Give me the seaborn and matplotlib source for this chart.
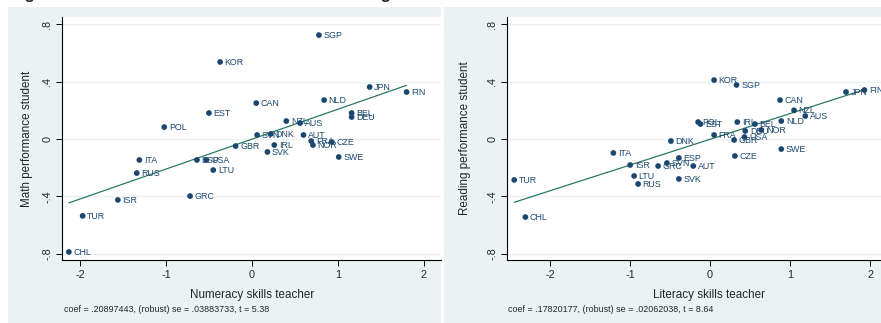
import matplotlib
matplotlib.use("Agg")
import matplotlib.pyplot as plt
from matplotlib.patches import Rectangle
import seaborn as sns
import pandas as pd

# Numeracy of teachers vs. math performance of students
num_countries = ["CHL", "TUR", "ISR", "RUS", "ITA", "GRC", "ESP", "USA", "LTU", "POL",
                 "EST", "KOR", "SGP", "CAN", "NLD", "JPN", "FIN", "BEL", "DEU", "NZL",
                 "AUS", "SVN", "DNK", "AUT", "GBR", "IRL", "SVK", "FRA", "NOR", "CZE", "SWE"]
num_teacher = [-2.13, -1.97, -1.56, -1.34, -1.31, -0.72, -0.64, -0.53, -0.45, -1.02,
               -0.50, -0.37, 0.78, 0.05, 0.84, 1.37, 1.80, 1.16, 1.16, 0.40,
               0.56, 0.06, 0.22, 0.60, -0.19, 0.26, 0.18, 0.69, 0.71, 0.93, 1.01]
math_student = [-0.786, -0.535, -0.424, -0.237, -0.146, -0.397, -0.146, -0.146, -0.216, 0.083,
                0.181, 0.536, 0.723, 0.250, 0.271, 0.362, 0.327, 0.181, 0.153, 0.125,
                0.111, 0.028, 0.035, 0.028, -0.049, -0.042, -0.090, -0.014, -0.042, -0.021, -0.125]

# Literacy of teachers vs. reading performance of students
lit_countries = ["TUR", "CHL", "ITA", "ISR", "LTU", "RUS", "GRC", "SVN", "ESP", "AUT",
                 "SVK", "CZE", "DNK", "FRA", "KOR", "SGP", "POL", "EST", "IRL", "BEL",
                 "DEU", "NOR", "USA", "GBR", "CAN", "NZL", "AUS", "NLD", "SWE", "JPN", "FIN"]
lit_teacher = [-2.45, -2.31, -1.21, -1.00, -0.95, -0.90, -0.65, -0.54, -0.39, -0.21,
               -0.39, 0.31, -0.49, 0.05, 0.05, 0.33, -0.15, -0.12, 0.34, 0.56,
               0.44, 0.64, 0.43, 0.30, 0.875, 1.05, 1.19, 0.89, 0.89, 1.70, 1.93]
read_student = [-0.285, -0.543, -0.097, -0.181, -0.257, -0.313, -0.188, -0.167, -0.132, -0.188,
                -0.278, -0.118, -0.014, 0.028, 0.410, 0.376, 0.118, 0.104, 0.118, 0.104,
                0.056, 0.063, 0.014, -0.007, 0.271, 0.200, 0.160, 0.125, -0.070, 0.327, 0.341]

y_ticks = [-0.8, -0.4, 0.0, 0.4, 0.8]
y_ticklabels = ["-.8", "-.4", "0", ".4", ".8"]
x_ticks = [-2, -1, 0, 1, 2]
x_ticklabels = ["-2", "-1", "0", "1", "2"]

num_note = "coef = .20897443, (robust) se = .03883733, t = 5.38"
lit_note = "coef = .17820177, (robust) se = .02062038, t = 8.64"

sns.set_style("white")
plt.rcParams["font.family"] = ["Liberation Sans", "DejaVu Sans"]

NAVY = "#1a476f"
FIT = "#2b7866"
REGION = "#eaf2f3"
W, H = 881, 323

fig = plt.figure(figsize=(W / 100, H / 100), dpi=100)
fig.patch.set_facecolor("white")

def px_rect(x0, y0, x1, y1):
    # pixel box (top-left origin) -> figure fraction [left, bottom, width, height]
    return [x0 / W, 1 - y1 / H, (x1 - x0) / W, (y1 - y0) / H]

# graph regions behind each panel
for x0, x1 in [(8, 441), (444, 900)]:
    l, b, w, h = px_rect(x0, 7, x1, 330)
    fig.patches.append(Rectangle((l, b), w, h, transform=fig.transFigure,
                                 facecolor=REGION, edgecolor="none", zorder=-5))

fig.text(10 / W, 1 + 1.5 / H, "Figure 4: Student Performance and Teacher Cognitive Skills",
         fontsize=12, fontweight="bold", ha="left", va="baseline")

panels = [
    dict(rect=px_rect(62, 17, 441, 260), xlim=(-2.21, 2.2),
         x=num_teacher, y=math_student, names=num_countries,
         xlabel="Numeracy skills teacher", ylabel="Math performance student",
         note=num_note, note_x=64, ylab_x=27, xlab_x=252),
    dict(rect=px_rect(507, 17, 890, 260), xlim=(-2.54, 2.25),
         x=lit_teacher, y=read_student, names=lit_countries,
         xlabel="Literacy skills teacher", ylabel="Reading performance student",
         note=lit_note, note_x=508, ylab_x=465, xlab_x=709),
]

for p in panels:
    ax = fig.add_axes(p["rect"])
    ax.set_zorder(1)
    ax.set_facecolor("white")
    df = pd.DataFrame({"teacher": p["x"], "student": p["y"], "country": p["names"]})

    for yt in y_ticks:
        ax.axhline(yt, color=REGION, lw=1.0, zorder=0)

    sns.regplot(data=df, x="teacher", y="student", scatter=False, ci=None, ax=ax,
                line_kws=dict(color=FIT, lw=0.9, zorder=2))
    sns.scatterplot(data=df, x="teacher", y="student", ax=ax, color=NAVY, s=17,
                    edgecolor="none", linewidth=0, zorder=3, legend=False)
    for _, r in df.iterrows():
        ax.annotate(r["country"], (r["teacher"], r["student"]), xytext=(3.3, -0.3),
                    textcoords="offset points", ha="left", va="center",
                    fontsize=6.4, color=NAVY, zorder=4)

    ax.set_xlim(*p["xlim"])
    ax.set_ylim(-0.842, 0.849)
    ax.set_xticks(x_ticks)
    ax.set_xticklabels(x_ticklabels)
    ax.set_yticks(y_ticks)
    ax.set_yticklabels(y_ticklabels, rotation=90, va="center")
    ax.tick_params(axis="both", direction="out", length=4, width=0.7, color="black",
                   labelsize=7.8, pad=3, left=True, bottom=True)
    for side in ["top", "right"]:
        ax.spines[side].set_visible(False)
    for side in ["left", "bottom"]:
        ax.spines[side].set_color("black")
        ax.spines[side].set_linewidth(0.8)

    bb = p["rect"]
    ax.set_xlabel(p["xlabel"], fontsize=8.4)
    ax.set_ylabel(p["ylabel"], fontsize=8.4)
    ax.xaxis.set_label_coords((p["xlab_x"] - bb[0] * W) / (bb[2] * W), -(295 - 260) / 243)
    ax.xaxis.label.set_va("center")
    ax.yaxis.set_label_coords((p["ylab_x"] - bb[0] * W) / (bb[2] * W), 0.5)
    ax.yaxis.label.set_va("center")

    fig.text(p["note_x"] / W, 1 - 310 / H, p["note"], fontsize=6.4,
             ha="left", va="center")

fig.savefig("out.png", dpi=100)
